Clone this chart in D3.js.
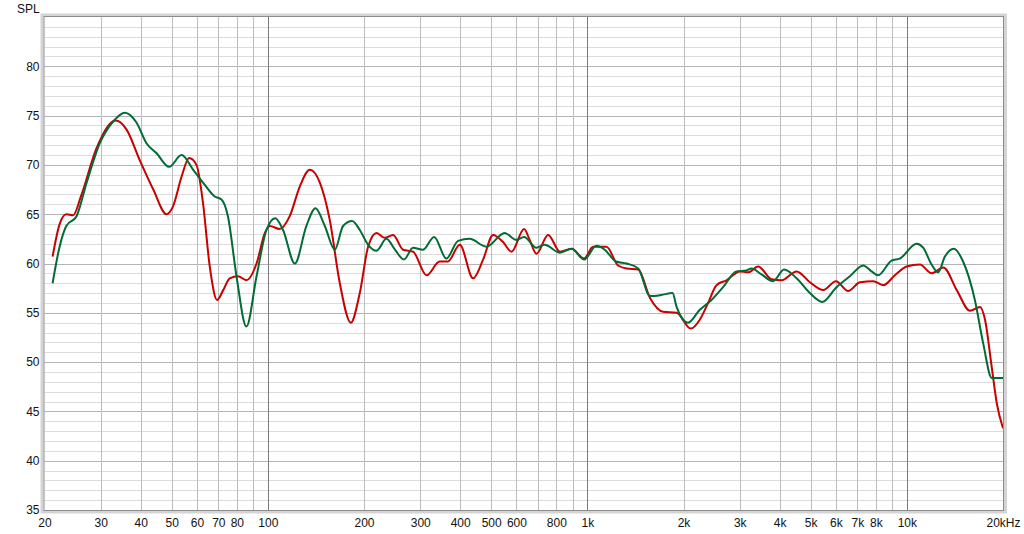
<!DOCTYPE html>
<html>
<head>
<meta charset="utf-8">
<script src="https://cdn.jsdelivr.net/npm/d3@7"></script>
<style>
  html, body { margin: 0; padding: 0; background: #fff; }
  svg { display: block; font-family: "Liberation Sans", Arial, sans-serif; }
</style>
</head>
<body>
<svg id="chart" width="1024" height="534"></svg>
<script>
// ---- data ----
const redFreq = [21.2,22.3,23.4,24.6,26.0,29.1,33.4,36.1,39.7,43.8,48.2,50.5,53.7,56.7,59.8,62.7,65.8,69.4,72.5,76.0,80.7,85.7,92.2,97.9,101.4,109,117.1,125.9,135.3,145.5,156.3,168,181.9,194,206,218.9,232.5,246.7,265,284.8,313.8,345,366,398.8,439,471.9,507,544,579,634,660,693,754,821,893,977,1042,1148,1248,1327,1443,1571,1727,1903,2108,2249,2388,2536,2727,3001,3185,3425,3773,4055,4520,4972,5477,5998,6556,7130,7850,8440,9174,9980,10990,11950,13010,14330,15770,16950,17570,18440,19130,20000];
const redSpl = [60.7,64.0,65.0,64.9,66.8,71.7,74.5,73.6,70.5,67.5,65.0,65.8,68.8,70.7,70.0,66.1,59.7,56.3,57.3,58.5,58.7,58.3,60.0,63.1,63.8,63.5,64.8,67.8,69.5,68.2,64.4,58.0,54.0,57.0,61.7,63.1,62.6,62.9,61.4,61.2,58.8,60.2,60.2,61.9,58.5,60.4,62.9,62.2,61.2,63.5,62.4,61.0,62.9,61.2,61.5,60.5,61.7,61.7,59.8,59.5,59.4,56.5,55.1,55.0,53.4,54.3,56.0,57.8,58.3,59.2,59.1,59.7,58.4,58.3,59.2,58.1,57.3,58.2,57.2,58.1,58.2,57.8,58.8,59.7,59.9,59.0,59.6,57.3,55.2,55.6,54.3,49.5,45.8,43.3];

const greenFreq = [21.2,22.3,23.4,25.2,27.1,29.8,32.8,35.7,38.8,41.7,44.8,49.1,53.7,58.4,62.7,68.2,71.6,75.0,79.8,85.7,92.2,99,105.5,111.6,121.5,132,141,150.8,162,172,183.6,194,206,219,235,250,266.7,284.8,306,331.6,362,394,428,483,551,600,634,693,735,821,893,977,1068,1134,1229,1327,1443,1571,1700,1848,1903,2067,2249,2447,2660,2930,3150,3265,3507,3815,4130,4520,4972,5434,6026,6631,7300,7755,8130,8957,9510,10730,11250,11950,12530,13160,14030,15000,16330,17340,18440,20000];
const greenSpl = [58.0,61.7,63.8,64.8,68.2,72.2,74.4,75.3,74.3,72.2,71.2,69.8,71.0,69.5,68.2,66.8,66.5,64.8,58.7,53.6,58.7,63.4,64.6,63.4,60.0,63.8,65.6,63.8,61.4,63.8,64.3,63.4,61.9,61.3,62.5,61.4,60.4,61.6,61.4,62.7,60.5,62.3,62.5,61.7,63.1,62.4,62.7,61.6,61.9,61.1,61.5,60.4,61.8,61.4,60.2,60.0,59.5,56.7,56.8,57.0,55.6,54.0,55.3,56.3,57.6,59.2,59.3,59.5,58.9,58.2,59.4,58.5,57.0,56.1,57.6,58.7,59.8,59.2,58.8,60.3,60.5,62.0,61.6,59.9,59.1,60.7,61.5,60.2,56.3,51.9,48.4,48.4];

const xGridMinor = [30,40,50,60,70,80,90,200,300,400,500,600,700,800,900,2000,3000,4000,5000,6000,7000,8000,9000];
const xGridMajor = [100,1000,10000];
const xTickValues = [20,30,40,50,60,70,80,100,200,300,400,500,600,800,1000,2000,3000,4000,5000,6000,7000,8000,10000,20000];
const xTickLabels = ["20","30","40","50","60","70","80","100","200","300","400","500","600","800","1k","2k","3k","4k","5k","6k","7k","8k","10k","20kHz"];
const yTickValues = [35,40,45,50,55,60,65,70,75,80];
const yAxisTitle = "SPL";

// ---- layout ----
const L = 44.5, R = 1003, T = 17, B = 510;
const svg = d3.select("#chart");
const x = d3.scaleLog().domain([20, 20000]).range([L, R]);
const y = d3.scaleLinear().domain([35, 85]).range([B, T]);

// frame shadow
svg.append("rect").attr("x", L - 2.5).attr("y", T - 2).attr("width", R - L + 5).attr("height", B - T + 4)
  .attr("fill", "none").attr("stroke", "#d4d4d4").attr("stroke-width", 3);

// background
svg.append("rect").attr("x", L).attr("y", T).attr("width", R - L).attr("height", B - T).attr("fill", "#fff");

const grid = svg.append("g");
// horizontal minor (1 dB)
grid.selectAll("line.hmin").data(d3.range(36, 85, 1).filter(v => v % 5 !== 0)).join("line")
  .attr("x1", L).attr("x2", R).attr("y1", d => Math.round(y(d)) + 0.5).attr("y2", d => Math.round(y(d)) + 0.5)
  .attr("stroke", "#dcdcdc").attr("stroke-width", 1);
// horizontal major (5 dB)
grid.selectAll("line.hmaj").data([40,45,50,55,60,65,70,75,80]).join("line")
  .attr("x1", L).attr("x2", R).attr("y1", d => Math.round(y(d)) + 0.5).attr("y2", d => Math.round(y(d)) + 0.5)
  .attr("stroke", "#b4b4b4").attr("stroke-width", 1);
// vertical minor
grid.selectAll("line.vmin").data(xGridMinor).join("line")
  .attr("y1", T).attr("y2", B).attr("x1", d => Math.round(x(d)) + 0.5).attr("x2", d => Math.round(x(d)) + 0.5)
  .attr("stroke", "#bdbdbd").attr("stroke-width", 1);
// vertical decades
grid.selectAll("line.vmaj").data(xGridMajor).join("line")
  .attr("y1", T).attr("y2", B).attr("x1", d => Math.round(x(d)) + 0.5).attr("x2", d => Math.round(x(d)) + 0.5)
  .attr("stroke", "#7a7a7a").attr("stroke-width", 1);

// frame
svg.append("rect").attr("x", L - 0.5).attr("y", T - 0.5).attr("width", R - L + 1).attr("height", B - T + 1)
  .attr("fill", "none").attr("stroke", "#8c8c8c").attr("stroke-width", 1);

// curves
const clip = svg.append("clipPath").attr("id", "clip").append("rect")
  .attr("x", L).attr("y", T).attr("width", R - L).attr("height", B - T);
const line = d3.line().x(d => x(d[0])).y(d => y(d[1])).curve(d3.curveMonotoneX);
const redData = redFreq.map((f, i) => [f, redSpl[i]]);
const greenData = greenFreq.map((f, i) => [f, greenSpl[i]]);
const plot = svg.append("g").attr("clip-path", "url(#clip)");
plot.append("path").datum(redData).attr("d", line).attr("fill", "none")
  .attr("stroke", "#c80000").attr("stroke-width", 2).attr("stroke-linejoin", "round");
plot.append("path").datum(greenData).attr("d", line).attr("fill", "none")
  .attr("stroke", "#006b35").attr("stroke-width", 2).attr("stroke-linejoin", "round");

// axes
const xAxis = d3.axisBottom(x).tickValues(xTickValues).tickSize(0).tickPadding(0)
  .tickFormat((d, i) => xTickLabels[i]);
const gx = svg.append("g").attr("transform", `translate(0,${B})`).call(xAxis);
gx.select(".domain").remove();
gx.selectAll("text").attr("y", 17).attr("dy", null).attr("font-size", 12)
  .attr("font-family", "'Liberation Sans', Arial, sans-serif").attr("fill", "#111");

const yAxis = d3.axisLeft(y).tickValues(yTickValues).tickSize(0).tickPadding(5).tickFormat(d3.format("d"));
const gy = svg.append("g").attr("transform", `translate(${L},0)`).call(yAxis);
gy.select(".domain").remove();
gy.selectAll("text").attr("font-size", 12)
  .attr("font-family", "'Liberation Sans', Arial, sans-serif").attr("fill", "#111");

svg.append("text").attr("x", 17).attr("y", 13).attr("font-size", 12)
  .attr("font-family", "'Liberation Sans', Arial, sans-serif").attr("fill", "#111").text(yAxisTitle);
</script>
</body>
</html>
